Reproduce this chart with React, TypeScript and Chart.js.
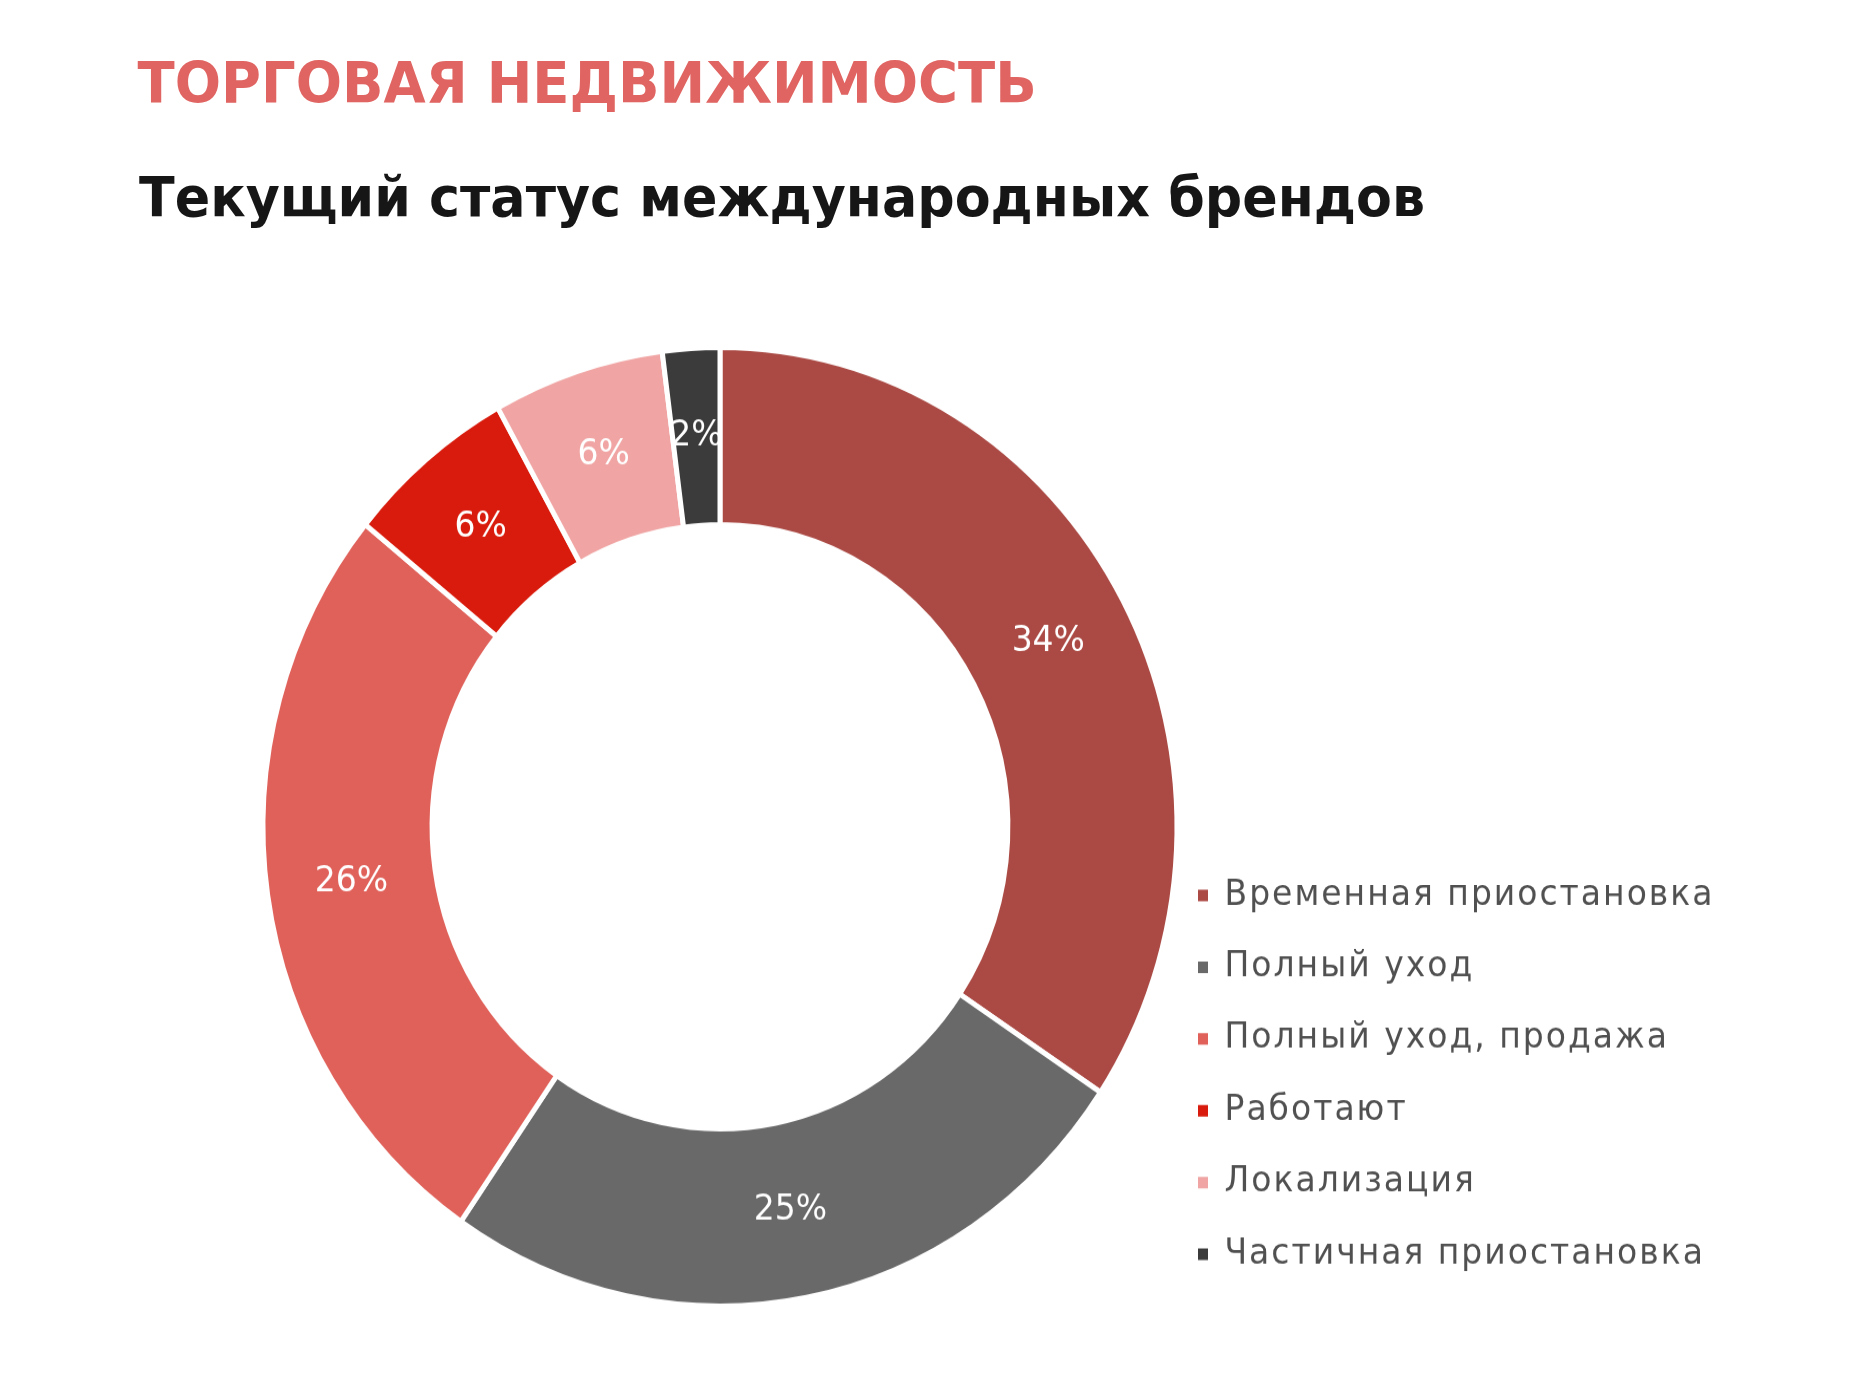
import React, { useEffect, useRef } from "react";
import { Chart, registerables } from "chart.js";

Chart.register(...registerables);

const TITLE = "ТОРГОВАЯ НЕДВИЖИМОСТЬ";
const SUBTITLE = "Текущий статус международных брендов";

const categories = [
  "Временная приостановка",
  "Полный уход",
  "Полный уход, продажа",
  "Работают",
  "Локализация",
  "Частичная приостановка",
];
const shares = [34, 25, 26, 6, 6, 2];
const colors = ["#AB4A44", "#696969", "#E0615A", "#D81B0C", "#F0A5A4", "#3B3B3B"];

const STRETCH = 1.049;
const W = 1860;
const H = 1300;
const LEGEND_COLOR = "#505050";
const LEGEND_FONT_SIZE = 33;
const LEGEND_SPACING = "2px";
const LEGEND_PADDING = 10;
const LEGEND_BOX = 10;
const CHART_LEFT = 244;
const CHART_RIGHT = 1180;

const letterSpacingPlugin = {
  id: "letterSpacing",
  beforeLayout(chart: any) {
    (chart.ctx as any).letterSpacing = LEGEND_SPACING;
  },
  beforeDraw(chart: any) {
    (chart.ctx as any).letterSpacing = LEGEND_SPACING;
  },
  beforeDatasetsDraw(chart: any) {
    (chart.ctx as any).letterSpacing = "0px";
  },
};

const percentLabels = {
  id: "percentLabels",
  afterDatasetsDraw(chart: any) {
    const { ctx } = chart;
    const meta = chart.getDatasetMeta(0);
    const values = chart.data.datasets[0].data as number[];
    ctx.save();
    (ctx as any).letterSpacing = "0px";
    ctx.font = "33px 'DejaVu Sans'";
    ctx.fillStyle = "#ffffff";
    ctx.textAlign = "center";
    ctx.textBaseline = "middle";
    meta.data.forEach((arc: any, i: number) => {
      const p = arc.getCenterPoint();
      ctx.fillText(`${values[i]}%`, p.x, p.y);
    });
    ctx.restore();
  },
};

function legendWidth(): number {
  const c = document.createElement("canvas");
  const ctx = c.getContext("2d") as any;
  ctx.font = `normal ${LEGEND_FONT_SIZE}px 'DejaVu Sans'`;
  ctx.letterSpacing = LEGEND_SPACING;
  let maxW = 0;
  categories.forEach((t) => {
    maxW = Math.max(maxW, ctx.measureText(t).width);
  });
  return LEGEND_PADDING + LEGEND_BOX + LEGEND_FONT_SIZE / 2 + maxW + 10;
}

export default function App() {
  const canvasRef = useRef<HTMLCanvasElement | null>(null);

  useEffect(() => {
    if (!canvasRef.current) return;
    const padRight = Math.max(0, W - CHART_RIGHT - legendWidth());
    const chart = new Chart(canvasRef.current, {
      type: "doughnut",
      data: {
        labels: categories,
        datasets: [
          {
            data: shares,
            backgroundColor: colors,
            borderColor: "#ffffff",
            borderWidth: 5,
            hoverOffset: 0,
            radius: 457,
            cutout: "63%",
          } as any,
        ],
      },
      options: {
        responsive: false,
        animation: false,
        devicePixelRatio: 1,
        layout: { padding: { left: CHART_LEFT, right: padRight, top: 321, bottom: 60 } },
        plugins: {
          tooltip: { enabled: false },
          title: { display: false },
          legend: {
            display: true,
            position: "right",
            align: "end",
            fullSize: false,
            labels: {
              font: { family: "'DejaVu Sans'", size: LEGEND_FONT_SIZE, lineHeight: 1.77 },
              color: LEGEND_COLOR,
              padding: LEGEND_PADDING,
              boxWidth: LEGEND_BOX,
              boxHeight: 11,
              generateLabels: () =>
                categories.map((c, i) => ({
                  text: [c] as any,
                  fillStyle: colors[i],
                  strokeStyle: colors[i],
                  lineWidth: 0,
                  hidden: false,
                  index: i,
                  fontColor: LEGEND_COLOR,
                })),
            },
          },
        },
      } as any,
      plugins: [letterSpacingPlugin, percentLabels],
    });
    return () => chart.destroy();
  }, []);

  return (
    <div
      style={{
        position: "relative",
        width: W,
        height: H,
        transform: `scaleY(${STRETCH})`,
        transformOrigin: "0 0",
        background: "#ffffff",
      }}
    >
      <canvas
        ref={canvasRef}
        width={W}
        height={H}
        style={{ position: "absolute", left: 0, top: 0, width: W, height: H }}
      />
      <div
        style={{
          position: "absolute",
          left: 129.5,
          top: 44.5,
          font: "bold 54.5px 'DejaVu Sans'",
          lineHeight: "55px",
          color: "#E06461",
          whiteSpace: "nowrap",
        }}
      >
        {TITLE}
      </div>
      <div
        style={{
          position: "absolute",
          left: 131,
          top: 152,
          font: "bold 52.3px 'DejaVu Sans'",
          lineHeight: "55px",
          color: "#161616",
          whiteSpace: "nowrap",
        }}
      >
        {SUBTITLE}
      </div>
    </div>
  );
}
